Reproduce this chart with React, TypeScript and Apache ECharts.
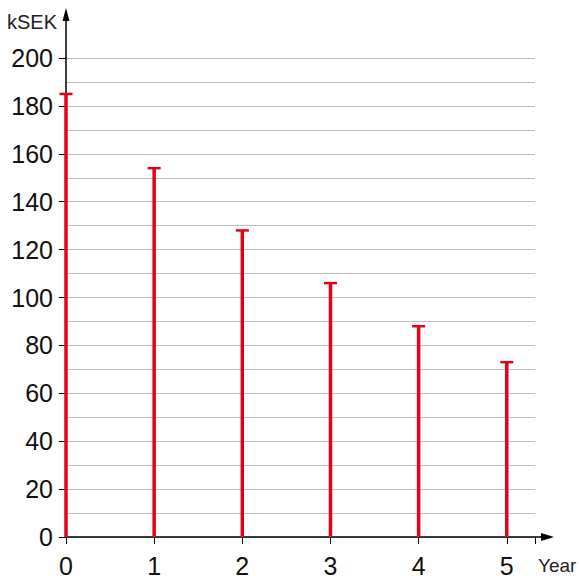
import React, { useEffect, useRef } from "react";
import * as echarts from "echarts";

const years = [0, 1, 2, 3, 4, 5];
const values = [185, 154, 128, 106, 88, 73];
const yTicks = { min: 0, max: 200, interval: 20 };
const xName = "Year";
const yName = "kSEK";

const FONT = '"Liberation Sans", Arial, Helvetica, sans-serif';
const RED = "#e3001b";

export default function App() {
  const ref = useRef<HTMLDivElement>(null);
  useEffect(() => {
    if (!ref.current) return;
    const chart = echarts.init(ref.current, null, { renderer: "svg", width: 579, height: 582 });
    const gridLeft = 66, gridTop = 58, gridRight = 44, gridBottom = 45;
    const W = 579, H = 582;
    const axisX = gridLeft;
    const axisY = H - gridBottom;
    chart.setOption({
      animation: false,
      backgroundColor: "#fff",
      grid: { left: gridLeft, top: gridTop, right: gridRight, bottom: gridBottom, containLabel: false, outerBoundsMode: "none" },
      xAxis: {
        type: "value",
        min: 0,
        max: 5.32,
        interval: 1,
        name: xName,
        nameLocation: "end",
        nameGap: 3,
        nameTextStyle: { fontFamily: FONT, fontSize: 19, color: "#222", verticalAlign: "top", padding: [19, 0, 0, 0] },
        axisLine: { show: true, onZero: false, lineStyle: { color: "#000", width: 1.5 } },
        axisTick: { show: true, length: 7, lineStyle: { color: "#000", width: 1 } },
        axisLabel: {
          fontFamily: FONT, fontSize: 25, color: "#111", margin: 16,
          formatter: (v: number) => (Number.isInteger(v) && v <= 5 ? String(v) : ""),
        },
        splitLine: { show: false },
      },
      yAxis: {
        type: "value",
        min: yTicks.min,
        max: yTicks.max,
        interval: yTicks.interval,
        name: yName,
        nameLocation: "end",
        nameGap: 36,
        nameTextStyle: { fontFamily: FONT, fontSize: 20, color: "#222", align: "right", verticalAlign: "middle", padding: [0, 9, 0, 0] },
        axisLine: { show: true, onZero: false, lineStyle: { color: "#000", width: 1.5 } },
        axisTick: { show: true, inside: false, length: 7, lineStyle: { color: "#000", width: 1 } },
        axisLabel: { fontFamily: FONT, fontSize: 25, color: "#111", margin: 13 },
        splitLine: { show: true, lineStyle: { color: "#bdbdbd", width: 1 } },
        minorTick: { show: false, splitNumber: 2 },
        minorSplitLine: { show: true, lineStyle: { color: "#bdbdbd", width: 1 } },
      },
      graphic: [
        { type: "line", shape: { x1: axisX, y1: gridTop, x2: axisX, y2: 18 }, style: { stroke: "#000", lineWidth: 1.5 }, z: 100 },
        { type: "polygon", shape: { points: [[axisX, 8], [axisX - 3.5, 21], [axisX + 3.5, 21]] }, style: { fill: "#000" }, z: 100 },
        { type: "line", shape: { x1: W - gridRight, y1: axisY, x2: 545, y2: axisY }, style: { stroke: "#000", lineWidth: 1.5 }, z: 100 },
        { type: "polygon", shape: { points: [[554, axisY], [541, axisY - 4], [541, axisY + 4]] }, style: { fill: "#000" }, z: 100 },
      ],
      series: [
        {
          type: "custom",
          clip: false,
          z: 10,
          data: years.map((y, i) => [y, values[i]]),
          renderItem: (params: any, api: any) => {
            const base = api.coord([api.value(0), 0]);
            const top = api.coord([api.value(0), api.value(1)]);
            return {
              type: "group",
              children: [
                { type: "line", shape: { x1: base[0], y1: base[1], x2: top[0], y2: top[1] }, style: { stroke: RED, lineWidth: 3.5 } },
                { type: "line", shape: { x1: top[0] - 6.5, y1: top[1], x2: top[0] + 6.5, y2: top[1] }, style: { stroke: RED, lineWidth: 2.5 } },
              ],
            };
          },
        },
      ],
    });
    return () => chart.dispose();
  }, []);
  return <div ref={ref} style={{ position: "fixed", left: 0, top: 0, width: 579, height: 582 }} />;
}
